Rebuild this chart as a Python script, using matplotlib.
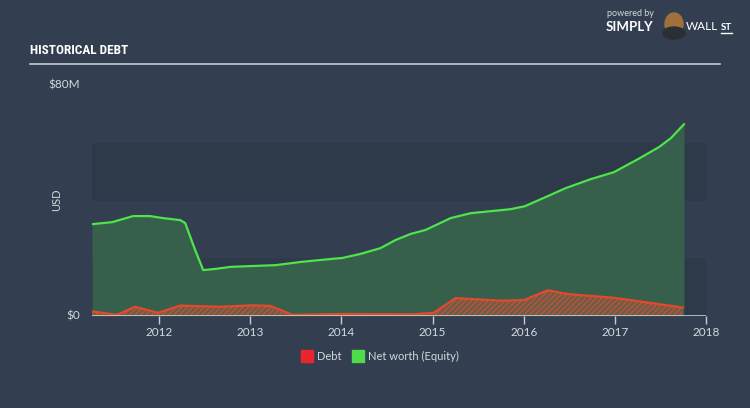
import matplotlib
matplotlib.use("Agg")
import matplotlib.pyplot as plt
from matplotlib.patches import Rectangle, Ellipse
from matplotlib.lines import Line2D

# ---- data (decimal years, USD millions) ----
equity_t = [2011.264, 2011.484, 2011.714, 2011.901, 2012.044, 2012.231, 2012.286, 2012.396,
            2012.484, 2012.615, 2012.780, 2013.011, 2013.275, 2013.549, 2013.769, 2014.011,
            2014.209, 2014.429, 2014.593, 2014.758, 2014.923, 2015.011, 2015.198, 2015.418,
            2015.637, 2015.857, 2016.011, 2016.242, 2016.462, 2016.736, 2016.989, 2017.253,
            2017.484, 2017.615, 2017.758]
equity_v = [31.8, 32.5, 34.6, 34.6, 33.9, 33.2, 32.2, 22.8,
            15.9, 16.3, 17.0, 17.3, 17.6, 18.7, 19.4, 20.1,
            21.5, 23.5, 26.3, 28.4, 29.8, 31.1, 33.9, 35.6,
            36.3, 37.0, 38.0, 41.2, 44.3, 47.4, 49.8, 54.3,
            58.5, 61.6, 66.4]

debt_t = [2011.264, 2011.538, 2011.736, 2011.989, 2012.231, 2012.670, 2013.033, 2013.220,
          2013.462, 2013.989, 2014.791, 2015.011, 2015.253, 2015.527, 2015.747, 2016.000,
          2016.264, 2016.484, 2016.989, 2017.286, 2017.747]
debt_v = [1.6, 0.4, 3.2, 1.1, 3.6, 3.2, 3.7, 3.5,
          0.4, 0.7, 0.6, 1.1, 6.2, 5.7, 5.3, 5.5,
          8.9, 7.6, 6.3, 5.0, 2.9]

year_ticks = [2012, 2013, 2014, 2015, 2016, 2017, 2018]
y_labels = ["$0", "$80M"]

BG = "#333f50"
BAND = "#2e3949"
TXT = "#d4d8de"
GREEN_LINE = "#4ee44a"
GREEN_FILL = "#36604c"
RED_LINE = "#e4492c"

plt.rcParams["font.family"] = ["Lato", "DejaVu Sans"]

fig = plt.figure(figsize=(7.5, 4.08), dpi=100, facecolor=BG)
ax = fig.add_axes([92/750, 1-316/408, 614/750, 231/408])
ax.set_facecolor(BG)

x0 = 2012 - 67/91
x1 = 2018
ax.set_xlim(x0, x1)
ax.set_ylim(0, 80)

# alternating bands
ax.axhspan(40, 60, color=BAND, zorder=0, lw=0)
ax.axhspan(0, 20, color=BAND, zorder=0, lw=0)

ax.fill_between(equity_t, equity_v, 0, color=GREEN_FILL, zorder=1, lw=0)
ax.plot(equity_t, equity_v, color=GREEN_LINE, lw=1.6, zorder=3, solid_joinstyle="round")

ax.fill_between(debt_t, debt_v, 0, facecolor="#6f5c47", edgecolor="#b9553a",
                hatch="//////", zorder=2, lw=0)
ax.plot(debt_t, debt_v, color=RED_LINE, lw=1.6, zorder=4, solid_joinstyle="round")

for s in ax.spines.values():
    s.set_visible(False)
ax.axhline(0, color="#c8ccd2", lw=1.2, zorder=5)
ax.set_xticks(year_ticks)
ax.set_xticklabels([str(y) for y in year_ticks])
ax.tick_params(axis="x", colors="#c8ccd2", length=6, width=1, labelcolor=TXT,
               labelsize=8.5, pad=2)
ax.set_yticks([])

# y labels
fig.text(80/750, 1-316/408, y_labels[0], color=TXT, fontsize=8.5, ha="right", va="center")
fig.text(80/750, 1-85/408, y_labels[1], color=TXT, fontsize=8.5, ha="right", va="center")
fig.text(57/750, 1-200/408, "USD", color=TXT, fontsize=8, rotation=90, ha="center", va="center")

# title and rule
fig.text(30/750, 1-51/408, "HISTORICAL DEBT", color="white", fontsize=9.5,
         fontweight="bold", fontstretch="condensed",
         family=["Liberation Sans Narrow", "DejaVu Sans Condensed", "Roboto Condensed", "Roboto"],
         ha="left", va="center")
fig.add_artist(Line2D([30/750, 720/750], [1-64/408, 1-64/408], color="#c8ccd2", lw=1.2))

# logo
fig.text(607/750, 1-14/408, "powered by", color=TXT, fontsize=6.5, ha="left", va="center")
fig.text(606/750, 1-27/408, "SIMPLY", color="white", fontsize=9.5, fontweight="bold",
         ha="left", va="center")
fig.add_artist(Ellipse((674/750, 1-24/408), 18/750, 22/408, color="#a0703a",
                       transform=fig.transFigure))
fig.add_artist(Ellipse((674/750, 1-33/408), 22/750, 12/408, color="#2a2f36",
                       transform=fig.transFigure))
fig.text(686/750, 1-27/408, "WALL", color="white", fontsize=8.5, ha="left", va="center")
fig.text(721/750, 1-27/408, "ST", color="white", fontsize=7, fontweight="bold",
         ha="left", va="center")
fig.add_artist(Line2D([721/750, 732/750], [1-33/408, 1-33/408], color="white", lw=1))

# legend
fig.add_artist(Rectangle((301/750, 1-362/408), 12/750, 12/408, color="#e8262b",
                         transform=fig.transFigure))
fig.text(317/750, 1-356/408, "Debt", color=TXT, fontsize=8, ha="left", va="center")
fig.add_artist(Rectangle((352/750, 1-362/408), 12/750, 12/408, color="#4fdc4b",
                         transform=fig.transFigure))
fig.text(368/750, 1-356/408, "Net worth (Equity)", color=TXT, fontsize=8, ha="left", va="center")

fig.savefig("out.png", dpi=100, facecolor=BG)
